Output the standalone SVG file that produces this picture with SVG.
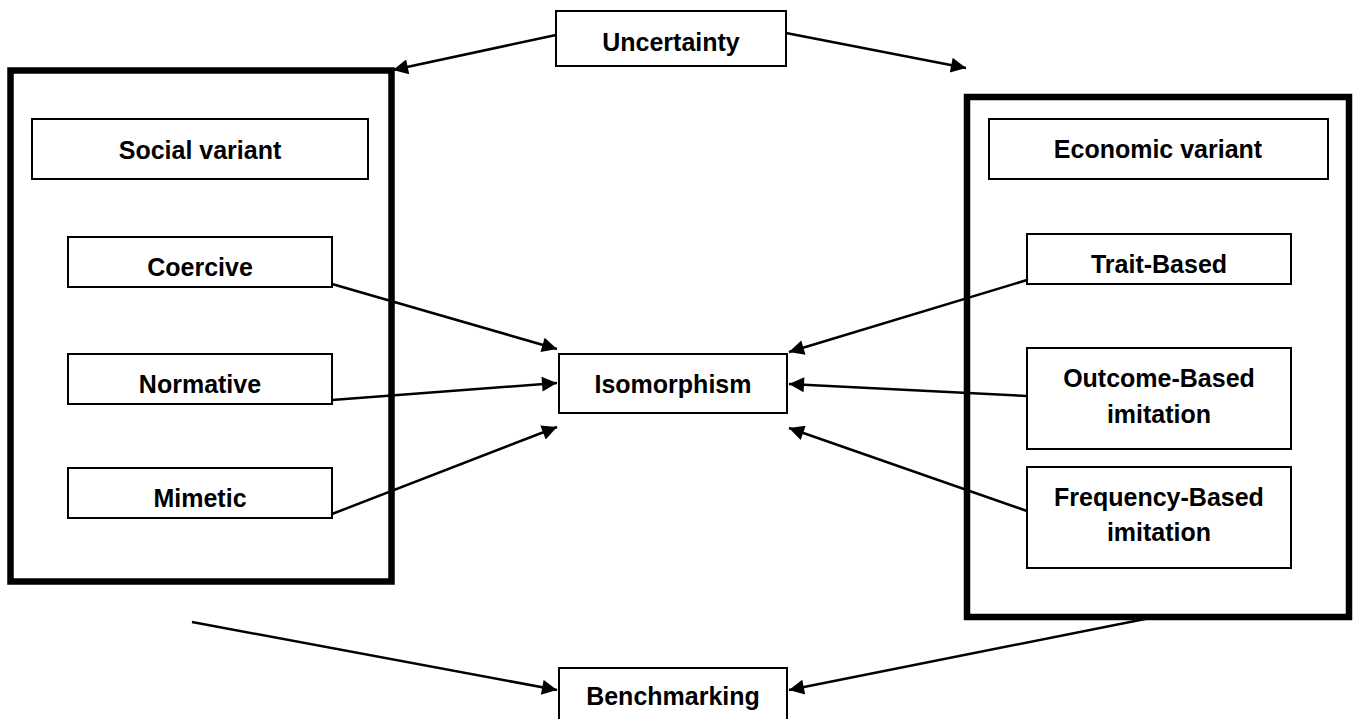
<svg xmlns="http://www.w3.org/2000/svg" width="1357" height="719" viewBox="0 0 1357 719">
<style>
.box{fill:#fff;stroke:#000;stroke-width:2}
.big{fill:none;stroke:#000;stroke-width:6.5}
.t{font-family:"Liberation Sans",Arial,sans-serif;font-weight:bold;font-size:25px;fill:#000;text-anchor:middle}
.c{stroke:#000;stroke-width:2.5;fill:none;marker-end:url(#ah)}
</style>
<defs>
<marker id="ah" viewBox="0 0 10 10" refX="10" refY="5" markerWidth="7" markerHeight="6" markerUnits="strokeWidth" orient="auto">
<path d="M0,0 L10,5 L0,10 z" fill="#000"/>
</marker>
</defs>
<rect width="1357" height="719" fill="#fff"/>
<g id="social-group"><rect class="big" x="10.5" y="70.5" width="381" height="511"/></g>
<g id="economic-group"><rect class="big" x="967" y="97" width="382" height="520"/></g>
<g id="connectors">
<line class="c" x1="556" y1="35" x2="393" y2="70"/>
<line class="c" x1="786" y1="33" x2="966" y2="68"/>
<line class="c" x1="332" y1="284" x2="557" y2="349"/>
<line class="c" x1="332" y1="400" x2="557" y2="383"/>
<line class="c" x1="332" y1="514" x2="557" y2="427"/>
<line class="c" x1="1027" y1="280" x2="789" y2="352"/>
<line class="c" x1="1027" y1="396" x2="789" y2="384"/>
<line class="c" x1="1027" y1="511" x2="789" y2="428"/>
<line class="c" x1="192" y1="622" x2="557" y2="690"/>
<line class="c" x1="1150" y1="618" x2="789" y2="690"/>
</g>
<g id="uncertainty"><rect class="box" x="556" y="11" width="230" height="55"/><text class="t" x="671" y="51">Uncertainty</text></g>
<g id="social-variant"><rect class="box" x="32" y="119" width="336" height="60"/><text class="t" x="200" y="159">Social variant</text></g>
<g id="coercive"><rect class="box" x="68" y="237" width="264" height="50"/><text class="t" x="200" y="276">Coercive</text></g>
<g id="normative"><rect class="box" x="68" y="354" width="264" height="50"/><text class="t" x="200" y="393">Normative</text></g>
<g id="mimetic"><rect class="box" x="68" y="468" width="264" height="50"/><text class="t" x="200" y="507">Mimetic</text></g>
<g id="isomorphism"><rect class="box" x="559" y="354" width="228" height="59"/><text class="t" x="673" y="393">Isomorphism</text></g>
<g id="economic-variant"><rect class="box" x="989" y="119" width="339" height="60"/><text class="t" x="1158" y="158">Economic variant</text></g>
<g id="trait-based"><rect class="box" x="1027" y="234" width="264" height="50"/><text class="t" x="1159" y="273">Trait-Based</text></g>
<g id="outcome-based"><rect class="box" x="1027" y="348" width="264" height="101"/><text class="t" x="1159" y="387">Outcome-Based</text><text class="t" x="1159" y="423">imitation</text></g>
<g id="frequency-based"><rect class="box" x="1027" y="467" width="264" height="101"/><text class="t" x="1159" y="506">Frequency-Based</text><text class="t" x="1159" y="541">imitation</text></g>
<g id="benchmarking"><rect class="box" x="559" y="668" width="228" height="60"/><text class="t" x="673" y="705">Benchmarking</text></g>
</svg>
